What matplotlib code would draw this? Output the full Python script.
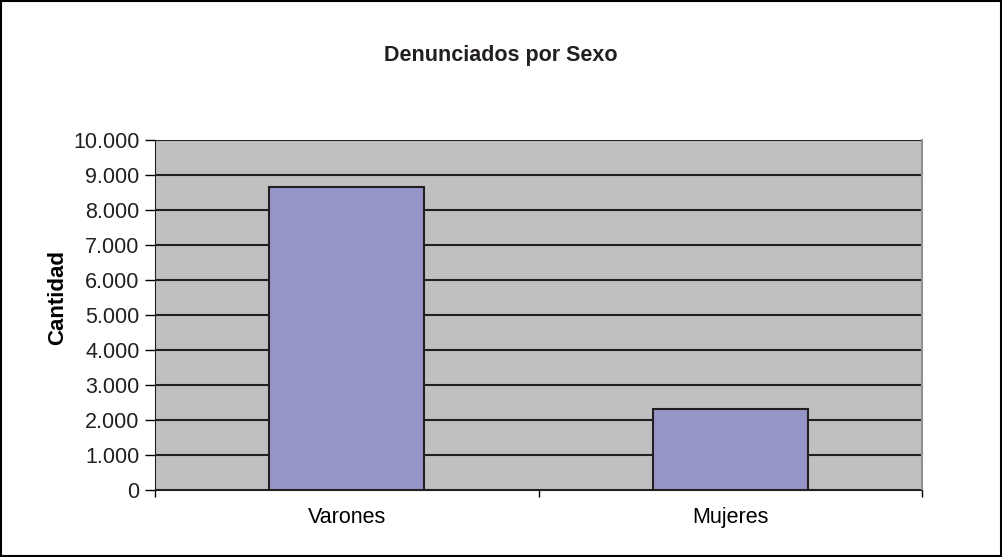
import numpy as np
import matplotlib
matplotlib.use("Agg")
import matplotlib.pyplot as plt
from matplotlib.ticker import FuncFormatter

plt.rcParams['font.family'] = ['Liberation Sans', 'DejaVu Sans']

categorias = ['Varones', 'Mujeres']
cantidades = [8650, 2300]
yticks = np.arange(0, 10001, 1000)

fig = plt.figure(figsize=(10.02, 5.57), dpi=100)
ax = fig.add_axes([0.1547, 0.1203, 0.7655, 0.6284])
ax.set_facecolor('#C0C0C0')

pos = np.arange(len(categorias)) + 0.5
ax.bar(pos, cantidades, width=0.405, color='#9595C8', edgecolor='#231F20',
       linewidth=1.5, zorder=3)

ax.set_xlim(0, 2)
ax.set_ylim(0, 10000)
ax.set_yticks(yticks)
ax.yaxis.set_major_formatter(FuncFormatter(lambda v, p: f'{int(v):,}'.replace(',', '.')))
ax.set_xticks([0, 1, 2])
ax.set_xticklabels([])
ax.set_xticks(pos, minor=True)
ax.set_xticklabels(categorias, minor=True)
ax.tick_params(axis='x', which='minor', length=0, pad=12, labelsize=15.5)
ax.tick_params(axis='x', which='major', length=5, direction='out', width=1)
ax.tick_params(axis='y', length=7, direction='out', width=1, labelsize=15.5,
               pad=4, labelcolor='#231F20')

ax.grid(axis='y', color='#231F20', linewidth=1.5, zorder=1)
ax.set_axisbelow(True)
ax.spines['top'].set_visible(False)
ax.spines['right'].set_color('#909090')
ax.spines['right'].set_linewidth(1.5)
ax.spines['left'].set_color('#231F20')
ax.spines['bottom'].set_color('#231F20')

ax.set_ylabel('Cantidad', fontsize=16, fontweight='bold', va='center')
ax.yaxis.set_label_coords(-0.1265, 0.55)
fig.text(0.5, 0.90, 'Denunciados por Sexo', ha='center', va='center',
         fontsize=15.5, fontweight='bold', color='#231F20')

fig.patches.append(plt.Rectangle((0.001, 0.001), 0.998, 0.997, transform=fig.transFigure,
                                 fill=False, edgecolor='black', linewidth=1.5))

fig.savefig('out.png', dpi=100)
